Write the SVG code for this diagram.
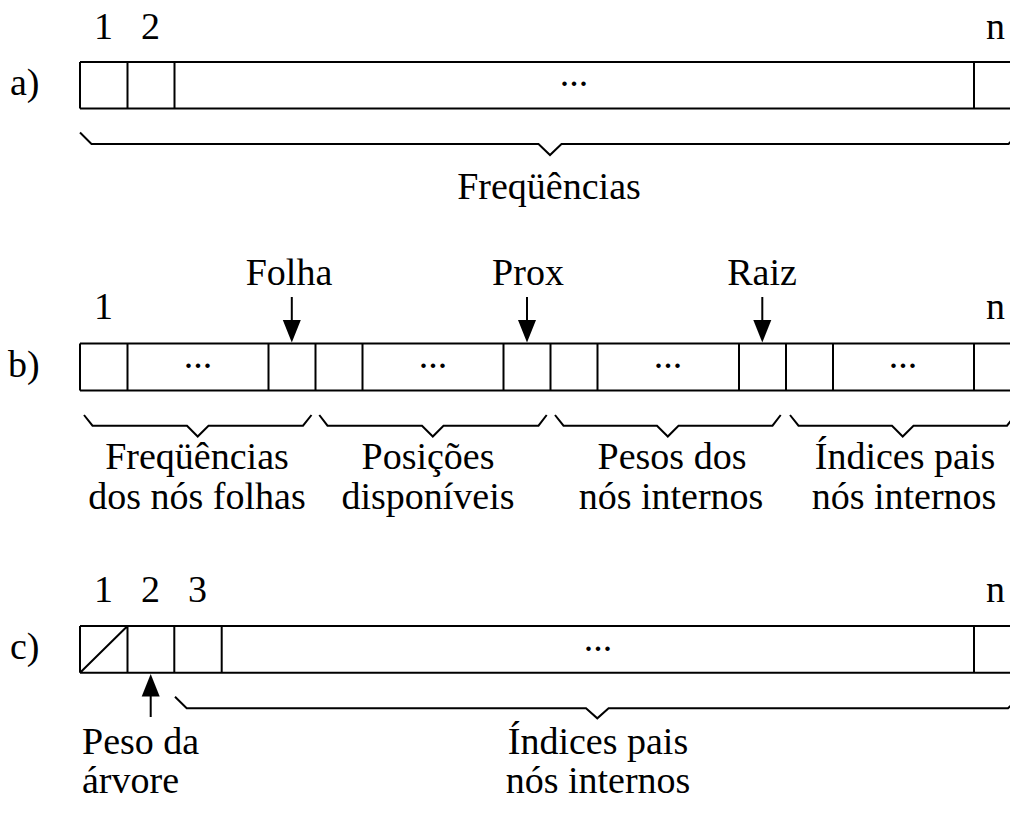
<svg xmlns="http://www.w3.org/2000/svg" width="1010" height="819" viewBox="0 0 1010 819">
<style>
text{font-family:'Liberation Serif',Tinos,'Times New Roman',Times,'DejaVu Serif',serif;font-size:38px;fill:#000}
.m{text-anchor:middle}
.ln{fill:none;stroke:#000;stroke-width:2}
.ah{fill:#000;stroke:none}
</style>
<rect width="1010" height="819" fill="#fff"/>
<g font-family="Liberation Serif, Times New Roman, DejaVu Serif, serif">
<g id="row-a">
<text x="10" y="95">a)</text>
<text class="m" x="103.5" y="39">1</text>
<text class="m" x="150.5" y="39">2</text>
<text class="m" x="995.5" y="39">n</text>
<path class="ln" d="M80,62H1010M80,108.5H1010M80,62V108.5M127.5,62V108.5M174.5,62V108.5M974,62V108.5"/>
<text class="m" x="574" y="86">...</text>
</g>
<g id="brace-a">
<path class="ln" d="M80,132.5L91.5,144H538.5L550,155L561.5,144H1008.5L1020,132.5"/>
<text class="m" x="549" y="199">Freqüências</text>
</g>
<g id="row-b">
<text x="8" y="377">b)</text>
<text class="m" x="103.5" y="319">1</text>
<text class="m" x="995.5" y="319">n</text>
<path class="ln" d="M80,343.5H1010M80,390.5H1010M80,343.5V390.5M127.5,343.5V390.5M268.5,343.5V390.5M315.5,343.5V390.5M362.5,343.5V390.5M503.5,343.5V390.5M550.5,343.5V390.5M597.5,343.5V390.5M739,343.5V390.5M786,343.5V390.5M833,343.5V390.5M974,343.5V390.5"/>
<text class="m" x="198" y="368">...</text>
<text class="m" x="433" y="368">...</text>
<text class="m" x="668" y="368">...</text>
<text class="m" x="903" y="368">...</text>
</g>
<g id="ptr-folha">
<text class="m" x="289" y="285">Folha</text>
<path class="ln" d="M291.8,297V322"/>
<polygon class="ah" points="282.8,320 300.8,320 291.8,342.5"/>
</g>
<g id="ptr-prox">
<text class="m" x="528" y="285">Prox</text>
<path class="ln" d="M527,297V322"/>
<polygon class="ah" points="518,320 536,320 527,342.5"/>
</g>
<g id="ptr-raiz">
<text class="m" x="762" y="285">Raiz</text>
<path class="ln" d="M762.3,297V322"/>
<polygon class="ah" points="753.3,320 771.3,320 762.3,342.5"/>
</g>
<g id="brace-b1">
<path class="ln" d="M84,415L92.5,425.7H187L197.7,436.5L208.5,425.7H303L311.5,415"/>
<text class="m" x="197" y="469">Freqüências</text>
<text class="m" x="197" y="508.5">dos nós folhas</text>
</g>
<g id="brace-b2">
<path class="ln" d="M319.3,415L327.5,425.7H422L432.8,436.5L443.5,425.7H538.5L546.7,415"/>
<text class="m" x="428" y="469">Posições</text>
<text class="m" x="428" y="508.5">disponíveis</text>
</g>
<g id="brace-b3">
<path class="ln" d="M555,415L563.5,425.7H657L667.8,436.5L678.5,425.7H772.5L780.7,415"/>
<text class="m" x="672" y="469">Pesos dos</text>
<text class="m" x="671" y="508.5">nós internos</text>
</g>
<g id="brace-b4">
<path class="ln" d="M790,415L798.5,425.7H892L902.7,436.5L913.5,425.7H1007L1015.4,415"/>
<text class="m" x="905" y="469">Índices pais</text>
<text class="m" x="904" y="508.5">nós internos</text>
</g>
<g id="row-c">
<text x="10" y="659">c)</text>
<text class="m" x="103.5" y="602">1</text>
<text class="m" x="150.5" y="602">2</text>
<text class="m" x="197.5" y="602">3</text>
<text class="m" x="995.5" y="602">n</text>
<path class="ln" d="M80,626H1010M80,672.7H1010M80,626V672.7M127.5,626V672.7M174.3,626V672.7M221.7,626V672.7M974,626V672.7M80,672.7L127.5,626"/>
<text class="m" x="598" y="651">...</text>
</g>
<g id="ptr-peso">
<path class="ln" d="M150.7,695V717"/>
<polygon class="ah" points="141.7,696.5 159.7,696.5 150.7,674"/>
<text x="82" y="754">Peso da</text>
<text x="82" y="793">árvore</text>
</g>
<g id="brace-c">
<path class="ln" d="M175,696.7L186.7,708.3H586L597.3,718.3L608.6,708.3H1008L1019.6,696.7"/>
<text class="m" x="598" y="754">Índices pais</text>
<text class="m" x="598" y="793">nós internos</text>
</g>
</g>
</svg>
